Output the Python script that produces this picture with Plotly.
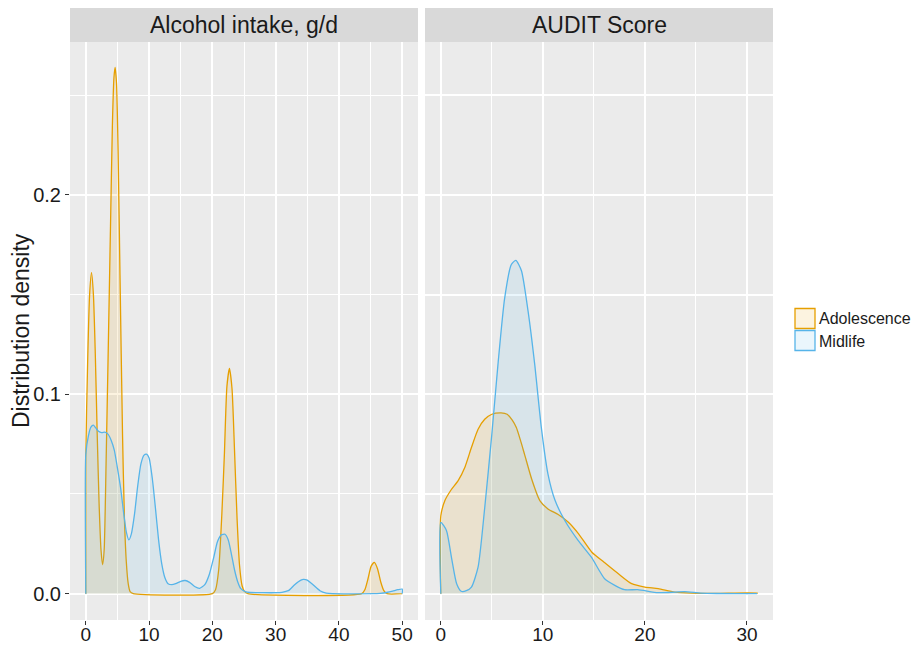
import plotly.graph_objects as go

# ---------------- data ----------------
groups = ["Adolescence", "Midlife"]
panel_titles = ["Alcohol intake, g/d", "AUDIT Score"]

alc_ado_x = [0, 0.3, 0.6, 0.9, 1.2, 1.5, 1.8, 2.1, 2.4, 2.65, 2.9, 3.2, 3.5, 3.9, 4.2, 4.45, 4.63,
             4.85, 5.1, 5.4, 5.8, 6.1, 6.4, 6.7, 7.0, 7.5, 20.0, 20.5, 21.0, 21.5, 21.9, 22.3, 22.7,
             23.1, 23.5, 23.9, 24.3, 24.7, 25.1, 25.6, 43.6, 44.1, 44.6, 45.1, 45.6, 46.1, 46.6,
             47.1, 47.6, 50]
alc_ado_y = [0.069, 0.118, 0.150, 0.161, 0.150, 0.120, 0.080, 0.045, 0.022, 0.0145, 0.022, 0.065,
             0.115, 0.184, 0.235, 0.259, 0.264, 0.256, 0.222, 0.160, 0.080, 0.038, 0.016, 0.005,
             0.001, 0, 0, 0.002, 0.012, 0.040, 0.070, 0.104, 0.113, 0.103, 0.072, 0.038, 0.014,
             0.004, 0.001, 0, 0, 0.002, 0.0075, 0.0138, 0.0157, 0.0125, 0.006, 0.0015, 0, 0]

alc_mid_x = [0, 0.4, 0.8, 1.2, 1.6, 2.0, 2.5, 3.0, 3.5, 4.0, 4.5, 5.0, 5.5, 6.0, 6.4, 6.8, 7.2,
             7.7, 8.2, 8.7, 9.2, 9.6, 10.0, 10.5, 11.0, 11.5, 12.0, 12.5, 13.0, 13.6, 14.2, 15.0,
             15.7, 16.4, 17.2, 18.0, 18.8, 19.5, 20.2, 20.8, 21.4, 22.0, 22.5, 23.0, 23.5, 24.0,
             24.5, 25.2, 26, 28, 30, 31, 32, 33, 34, 34.4, 35, 36, 37, 38, 39, 45.5, 46.5, 47.5,
             48.5, 49.3, 50]
alc_mid_y = [0.070, 0.079, 0.0835, 0.0845, 0.083, 0.0815, 0.0808, 0.081, 0.080, 0.077, 0.072,
             0.063, 0.053, 0.040, 0.031, 0.027, 0.030, 0.040, 0.054, 0.065, 0.0695, 0.070, 0.068,
             0.058, 0.043, 0.027, 0.015, 0.008, 0.005, 0.0045, 0.005, 0.0062, 0.0066, 0.0057,
             0.0036, 0.0027, 0.0045, 0.0095, 0.018, 0.026, 0.0295, 0.0298, 0.027, 0.020, 0.012,
             0.006, 0.0025, 0.001, 0.0006, 0.0005, 0.0005, 0.0007, 0.0015, 0.0045, 0.0068, 0.0072,
             0.0068, 0.0042, 0.0015, 0.0003, 0, 0, 0.0002, 0.0006, 0.0013, 0.002, 0.0023]

aud_ado_x = [0, 0.4, 1.0, 1.7, 2.35, 3.0, 3.65, 4.3, 5.0, 5.9, 6.5, 7.0, 7.4, 7.8, 8.2, 8.9, 9.7,
             10.5, 11.5, 12.5, 13.5, 14.8, 16.0, 17.4, 18.7, 20.0, 21.3, 22.9, 24.6, 27, 31]
aud_ado_y = [0.039, 0.0467, 0.052, 0.0567, 0.0633, 0.0733, 0.0825, 0.0875, 0.090, 0.0907, 0.0900,
             0.087, 0.0833, 0.077, 0.070, 0.0575, 0.0467, 0.0425, 0.0397, 0.0358, 0.030, 0.0208,
             0.0158, 0.010, 0.005, 0.0033, 0.0025, 0.0008, 0.0003, 0.0002, 0.0003]

aud_mid_x = [0, 0.55, 1.05, 1.55, 2.0, 2.5, 3.0, 3.65, 4.3, 5.0, 5.6, 6.25, 6.9, 7.35, 7.9, 8.55,
             9.2, 9.85, 10.5, 11.2, 12.15, 13.45, 14.75, 16.05, 17.05, 18.0, 19.3, 21.3, 23.0,
             23.9, 25.5, 27, 31]
aud_mid_y = [0.0358, 0.0317, 0.018, 0.005, 0.0012, 0.0015, 0.0033, 0.0133, 0.043, 0.080, 0.115,
             0.148, 0.165, 0.1672, 0.162, 0.1417, 0.115, 0.0833, 0.060, 0.0467, 0.0367, 0.0267,
             0.0183, 0.0075, 0.0042, 0.002, 0.002, 0.0005, 0.0008, 0.001, 0.0003, 0.0001, 0]

alc_ticks = [0, 10, 20, 30, 40, 50]
aud_ticks = [0, 10, 20, 30]
y_ticks = [0.0, 0.1, 0.2]
y_tick_labels = ["0.0", "0.1", "0.2"]

# ---------------- styling ----------------
line_cols = {"Adolescence": "#E69F00", "Midlife": "#56B4E9"}
fill_cols = {"Adolescence": "rgba(230,159,0,0.12)", "Midlife": "rgba(86,180,233,0.12)"}
FONT = "Liberation Sans, Arial, sans-serif"
OFF = 8                     # page body margin
W, H = 921 - OFF, 646 - OFF


def fx(p):  # page pixel -> paper x
    return (p - OFF) / W


def fy(p):  # page pixel -> paper y
    return 1 - (p - OFF) / H


def closed(xs, ys):
    return [xs[0]] + list(xs) + [xs[-1]], [0] + list(ys) + [0]


fig = go.Figure()
series = [
    ("x", "y", "Adolescence", alc_ado_x, alc_ado_y),
    ("x", "y", "Midlife", alc_mid_x, alc_mid_y),
    ("x2", "y2", "Adolescence", aud_ado_x, aud_ado_y),
    ("x2", "y2", "Midlife", aud_mid_x, aud_mid_y),
]
for xa, ya, name, xs, ys in series:
    cx, cy = closed(xs, ys)
    fig.add_trace(go.Scatter(
        x=cx, y=cy, xaxis=xa, yaxis=ya, name=name, legendgroup=name, showlegend=False,
        mode="lines", fill="toself", fillcolor=fill_cols[name],
        line=dict(color=line_cols[name], width=1.3, shape="spline", smoothing=0.6),
        hoverinfo="skip"))

d1 = [fx(70), fx(418)]
d2 = [fx(425), fx(773)]
ydom = [fy(620), fy(42)]

tickfont = dict(family=FONT, size=19, color="#1a1a1a")
minor_grid = dict(showgrid=True, gridcolor="white", gridwidth=1, ticks="")


def xaxis(dom, rng, ticks, anchor):
    return dict(domain=dom, range=rng, tickmode="array", tickvals=ticks, anchor=anchor,
                showgrid=True, gridcolor="white", gridwidth=2, zeroline=False, showline=False,
                ticks="outside", ticklen=4, tickwidth=1, tickcolor="#333333", tickfont=tickfont,
                ticklabelstandoff=-7,
                minor=dict(dtick=5, tick0=0, **minor_grid), automargin=False, fixedrange=True)


fig.update_layout(
    width=W, height=H, margin=dict(l=0, r=0, t=0, b=0),
    paper_bgcolor="white", plot_bgcolor="#EBEBEB",
    font=dict(family=FONT, color="#1a1a1a"),
    xaxis=xaxis(d1, [-2.5, 52.5], alc_ticks, "y"),
    xaxis2=xaxis(d2, [-1.55, 32.55], aud_ticks, "y2"),
    yaxis=dict(domain=ydom, range=[-0.0132, 0.2767], tickmode="array", tickvals=y_ticks,
               ticktext=y_tick_labels, anchor="x", showgrid=True, gridcolor="white", gridwidth=2,
               zeroline=False, showline=False, ticks="outside", ticklen=4, tickwidth=1,
               tickcolor="#333333", tickfont=dict(family=FONT, size=20, color="#1a1a1a"),
               minor=dict(dtick=0.05, tick0=0, **minor_grid), automargin=False, fixedrange=True),
    yaxis2=dict(domain=ydom, matches="y", anchor="x2", showticklabels=False, showgrid=True,
                gridcolor="white", gridwidth=2, zeroline=False, showline=False, ticks="",
                minor=dict(dtick=0.05, tick0=0, **minor_grid), automargin=False, fixedrange=True),
    showlegend=False,
)

# facet strips
for dom, title in zip([d1, d2], panel_titles):
    fig.add_shape(type="rect", xref="paper", yref="paper", x0=dom[0], x1=dom[1],
                  y0=fy(42), y1=fy(8), fillcolor="#D9D9D9", line=dict(width=0), layer="below")
    fig.add_annotation(xref="paper", yref="paper", x=(dom[0] + dom[1]) / 2, y=fy(25),
                       text=title, showarrow=False, xanchor="center", yanchor="middle",
                       font=dict(family=FONT, size=23, color="#1a1a1a"))

# y-axis title
fig.add_annotation(xref="paper", yref="paper", x=fx(21), y=(ydom[0] + ydom[1]) / 2,
                   text="Distribution density", textangle=-90, showarrow=False,
                   xanchor="center", yanchor="middle",
                   font=dict(family=FONT, size=23, color="#1a1a1a"))

# legend (keys + labels)
key_tops = [308.5, 330.5]
for name, top in zip(groups, key_tops):
    fig.add_shape(type="rect", xref="paper", yref="paper", x0=fx(795), x1=fx(815),
                  y0=fy(top + 20), y1=fy(top), fillcolor=fill_cols[name],
                  line=dict(color=line_cols[name], width=1.3))
    fig.add_annotation(xref="paper", yref="paper", x=fx(817), y=fy(top + 10.5), text=name,
                       showarrow=False, xanchor="left", yanchor="middle",
                       font=dict(family=FONT, size=16, color="#1a1a1a"))

fig.write_html("out.html")
